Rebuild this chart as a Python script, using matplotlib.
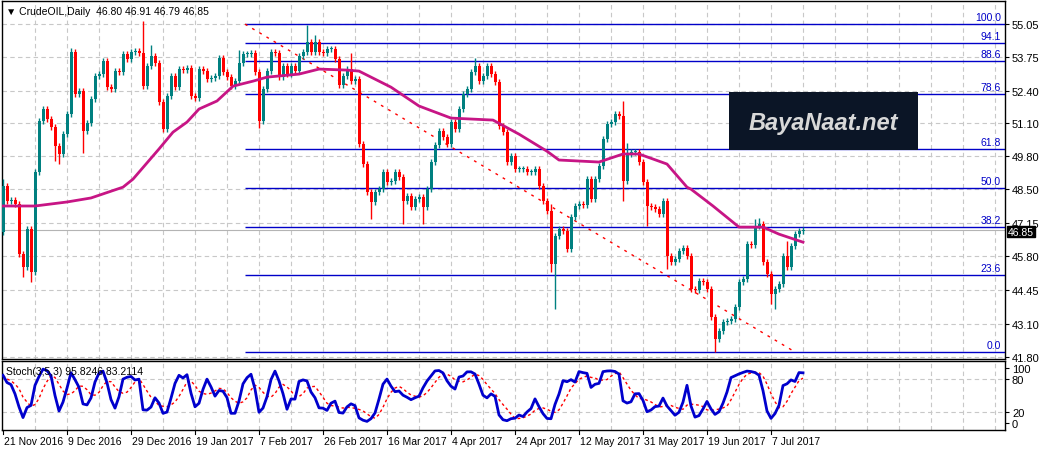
import matplotlib
matplotlib.use("Agg")
import matplotlib.pyplot as plt
from matplotlib.patches import Rectangle
import numpy as np

# ── Data (daily closes, bar index 0 = 21 Nov 2016) ─────────────────────────────
closes = [
    48.60, 48.01, 48.05, 47.90, 45.90, 45.40, 46.89, 45.20, 49.16, 51.19,
    51.67, 51.27, 50.95, 50.20, 49.88, 50.67, 51.47, 53.94, 52.26, 52.38,
    50.79, 51.11, 52.07, 52.98, 53.06, 53.58, 52.54, 52.46, 53.18, 53.14,
    53.86, 53.66, 53.94, 53.98, 53.90, 52.58, 53.38, 53.78, 53.50, 51.95,
    50.87, 52.18, 52.98, 52.54, 53.26, 53.22, 53.30, 52.18, 52.10, 53.26,
    53.20, 52.86, 52.90, 52.98, 53.70, 53.14, 52.94, 52.58, 52.78, 53.50,
    53.86, 53.86, 53.90, 53.14, 51.19, 52.46, 53.18, 53.94, 53.90, 52.94,
    53.38, 53.06, 53.38, 53.20, 53.78, 53.94, 54.33, 53.94, 54.33, 53.94,
    53.90, 54.06, 54.06, 53.66, 52.62, 52.98, 53.26, 52.78, 52.86, 50.27,
    49.48, 48.36, 47.97, 48.36, 48.48, 49.16, 48.76, 48.80, 49.16, 48.96,
    48.01, 48.21, 47.77, 48.09, 48.17, 47.77, 48.48, 49.56, 50.24, 50.79,
    50.55, 50.27, 51.15, 50.87, 51.67, 52.26, 52.46, 53.14, 53.38, 52.78,
    52.98, 53.38, 53.06, 52.74, 50.99, 50.75, 49.56, 49.80, 49.28, 49.28,
    49.30, 49.16, 49.18, 49.28, 48.60, 48.01, 47.61, 45.50, 46.61, 46.89,
    46.80, 46.10, 47.37, 47.81, 47.89, 47.85, 48.88, 48.10, 48.88, 49.40,
    50.47, 51.07, 51.15, 51.47, 51.40, 48.80, 49.88, 49.95, 49.95, 49.56,
    48.76, 47.81, 47.77, 47.69, 47.49, 48.01, 45.82, 45.58, 45.70, 46.02,
    46.14, 45.82, 44.50, 44.45, 44.82, 44.78, 44.50, 43.39, 42.52, 42.83,
    43.19, 43.25, 43.31, 43.79, 44.78, 44.90, 46.30, 46.25, 47.01, 47.09,
    45.58, 45.10, 44.30, 44.50, 44.70, 45.82, 45.38, 46.22, 46.69, 46.80,
    46.85,
]
first_open = 46.77
# notable wick extremes (bar index -> price)
wick_highs = {0: 48.9, 17: 54.1, 35: 55.17, 37: 54.2, 59: 54.0, 76: 55.0, 78: 54.6,
              87: 53.9, 118: 53.7, 137: 47.9, 155: 52.0, 156: 50.3, 188: 47.3,
              189: 47.35, 196: 46.4}
wick_lows = {5: 45.0, 7: 44.8, 13: 49.6, 14: 49.5, 20: 49.9, 64: 50.9, 92: 47.3,
             100: 47.1, 105: 47.1, 137: 45.2, 138: 43.7, 155: 48.0, 161: 47.0,
             166: 45.3, 178: 42.0, 192: 43.9, 193: 43.7}

ma_bars = [0, 8, 16, 22, 30, 32.5, 39, 42.5, 46, 49, 53.5, 57.5, 62.5, 66, 74, 79, 86,
           89, 97, 104, 112, 122.5, 129, 136, 139, 149, 155, 159, 166, 171, 172,
           177.5, 184, 190, 194, 200]
ma_vals = [47.81, 47.81, 47.97, 48.13, 48.56, 48.88, 50.08, 50.75, 51.15, 51.67, 51.99,
           52.58, 52.78, 52.94, 53.06, 53.26, 53.22, 53.18, 52.54, 51.79, 51.31, 51.23,
           50.67, 49.99, 49.64, 49.56, 49.88, 49.88, 49.48, 48.56, 48.48, 47.81,
           46.97, 46.97, 46.69, 46.37]

fib_levels = [100.0, 94.1, 88.6, 78.6, 61.8, 50.0, 38.2, 23.6, 0.0]
fib_high, fib_low = 55.05, 42.0
fib_start_bar = 60.5
trend_bars = [60.5, 198]
trend_vals = [55.05, 42.0]

price_ticks = [55.05, 53.75, 52.40, 51.10, 49.80, 48.50, 47.15, 45.80, 44.45, 43.10, 41.80]
date_labels = ["21 Nov 2016", "9 Dec 2016", "29 Dec 2016", "19 Jan 2017", "7 Feb 2017",
               "26 Feb 2017", "16 Mar 2017", "4 Apr 2017", "24 Apr 2017", "12 May 2017",
               "31 May 2017", "19 Jun 2017", "7 Jul 2017"]

# ── OHLC arrays ─────────────────────────────────────────────────────────────
c = np.array(closes)
o = np.concatenate([[first_open], c[:-1]])
n = len(c)
h = np.maximum(o, c) + 0.12
l = np.minimum(o, c) - 0.12
for k, v in wick_highs.items():
    h[k] = max(h[k], v)
for k, v in wick_lows.items():
    l[k] = min(l[k], v)
x = np.arange(n)

# Stochastic (3,5,3), MT4 style
kp, dp, slow = 3, 5, 3
ll = np.array([l[max(0, i - kp + 1):i + 1].min() for i in range(n)])
hh = np.array([h[max(0, i - kp + 1):i + 1].max() for i in range(n)])
num = np.array([(c - ll)[max(0, i - slow + 1):i + 1].sum() for i in range(n)])
den = np.array([(hh - ll)[max(0, i - slow + 1):i + 1].sum() for i in range(n)])
k_line = 100 * num / np.where(den == 0, 1, den)
d_line = np.array([k_line[max(0, i - dp + 1):i + 1].mean() for i in range(n)])

# ── Figure ──────────────────────────────────────────────────────────────────
W, H = 1053, 452
plt.rcParams['font.family'] = ['Liberation Sans', 'DejaVu Sans']
fig = plt.figure(figsize=(W / 100, H / 100), dpi=100)

def px_axes(x0, y0, x1, y1):
    return fig.add_axes([x0 / W, 1 - y1 / H, (x1 - x0) / W, (y1 - y0) / H])

ax = px_axes(2, 2, 1005, 360)
ax2 = px_axes(2, 362, 1005, 431)

xlim = (-0.25, 250.5)
grid_kw = dict(color="#c8c8c8", linestyle=(0, (4, 3)), linewidth=0.8, zorder=0)
vgrid = np.arange(8, 251, 8)

for a in (ax, ax2):
    a.set_xlim(*xlim)
    for v in vgrid:
        a.axvline(v, **grid_kw)
    a.set_xticks([])
    for s in a.spines.values():
        s.set_linewidth(1.0)
        s.set_color("black")
    a.tick_params(axis="y", which="both", length=3, labelsize=8, right=True,
                  left=False, labelright=True, labelleft=False, pad=2)

# main panel
ymin, ymax = 41.72, 55.97
ax.set_ylim(ymin, ymax)
for p in price_ticks:
    ax.axhline(p, **grid_kw)
ax.set_yticks(price_ticks)
ax.set_yticklabels([f"{p:.2f}" for p in price_ticks])

# fibonacci levels
for lvl in fib_levels:
    price = fib_low + (fib_high - fib_low) * lvl / 100
    ax.hlines(price, fib_start_bar, xlim[1], color="#0000c8", linewidth=1.0, zorder=2)
    ax.text(249.5, price + 0.08, f"{lvl:.1f}", color="#0000c8", fontsize=7.5,
            ha="right", va="bottom", zorder=3)

ax.plot(trend_bars, trend_vals, color="red", linestyle=(0, (2, 4)), linewidth=1.0, zorder=2)

# current price line
ax.axhline(c[-1], color="#b4b4b4", linewidth=0.8, zorder=1)

# candles
up = c >= o
ax.vlines(x[up], l[up], h[up], color="#008080", linewidth=1, zorder=4)
ax.vlines(x[~up], l[~up], h[~up], color="red", linewidth=1, zorder=4)
body = np.maximum(np.abs(c - o), 0.03)
ax.bar(x[up], body[up], bottom=np.minimum(o, c)[up], width=0.75, color="#008080",
       linewidth=0, zorder=5)
ax.bar(x[~up], body[~up], bottom=np.minimum(o, c)[~up], width=0.75, color="red",
       linewidth=0, zorder=5)

ax.plot(ma_bars, ma_vals, color="#c71585", linewidth=2.0, zorder=6)

# last-price tag
ax.text(1.003, (c[-1] - ymin) / (ymax - ymin) - 0.004, f"{c[-1]:.2f}",
        transform=ax.transAxes, fontsize=7.5, color="white", va="center", ha="left",
        bbox=dict(boxstyle="square,pad=0.08", fc="black", ec="black"), zorder=10,
        clip_on=False)

ax.text(0.004, 0.985, "\u25bc CrudeOIL,Daily  46.80 46.91 46.79 46.85", transform=ax.transAxes,
        fontsize=7.5, va="top", ha="left", color="black")

# watermark
ax.add_patch(Rectangle((181.5, 50.04), 47.25, 2.30, fc="#0b1526", ec="none", zorder=8))
ax.text(205.1, 51.15, "BayaNaat.net", fontsize=17, fontstyle="italic", fontweight="bold",
        color="#d8d8d8", ha="center", va="center", zorder=9)

# stochastic panel
ax2.set_ylim(-12.7, 112.7)
for lv in (80, 20):
    ax2.axhline(lv, **grid_kw)
ax2.set_yticks([100, 80, 20, 0])
ax2.plot(x, k_line, color="#0000cd", linewidth=2.0, zorder=3)
ax2.plot(x, d_line, color="red", linestyle=(0, (2, 2)), linewidth=1.0, zorder=2)
ax2.text(0.004, 0.93, "Stoch(3,5,3) 95.8246 83.2114", transform=ax2.transAxes,
         fontsize=7.5, va="top", ha="left")

# date labels under the stochastic panel
for i, lab in enumerate(date_labels):
    b = i * 16
    ax2.plot([b, b], [-12.7, -20], color="black", linewidth=0.8, clip_on=False)
    ax2.text(b + 0.3, -24, lab, fontsize=7.5, ha="left", va="top")

fig.savefig("out.png", dpi=100)
